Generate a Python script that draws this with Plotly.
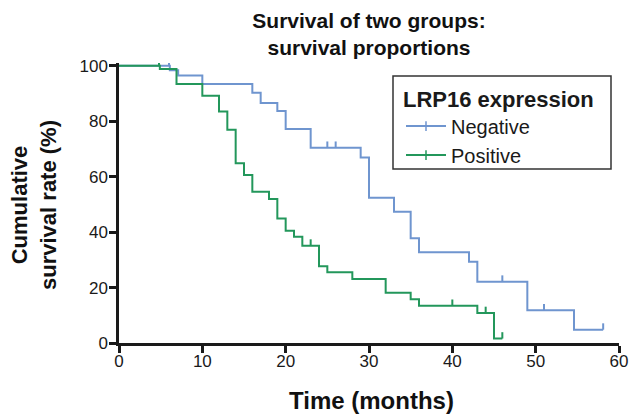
import plotly.graph_objects as go

# ---- data ----
neg_time = [0, 6.1, 7.1, 10, 16, 17, 19, 20, 23, 29, 30, 33, 35, 36, 42, 43, 49, 54.6, 58.1]
neg_surv = [100, 98.4, 96.5, 93.4, 90.3, 86.6, 83.7, 77.2, 70.4, 66.9, 52.4, 47.3, 37.8, 32.7, 29.3, 22.1, 11.8, 4.8, 4.8]
neg_censor = [6.0, 25, 26, 46, 51, 58.1]

pos_time = [0, 4.9, 6.9, 10, 12, 13, 14, 15, 16, 18, 19, 20, 21, 22, 24, 25, 28, 32, 35, 36, 43, 45, 46]
pos_surv = [100, 98.8, 93.4, 89.2, 83.5, 76.9, 64.8, 60.6, 54.6, 51.9, 44.9, 40.5, 38.3, 35.1, 27.7, 25.5, 23.1, 18.1, 15.8, 13.4, 10.8, 1.6, 1.6]
pos_censor = [4.8, 23, 40, 44, 46]

x_ticks = [0, 10, 20, 30, 40, 50, 60]
y_ticks = [0, 20, 40, 60, 80, 100]

BLUE = "#6f95cf"
GREEN = "#23975b"
TICK_H = 2.3  # censor tick height in % units


def surv_at(times, survs, t):
    v = survs[0]
    for ti, si in zip(times, survs):
        if ti <= t:
            v = si
    return v


def censor_xy(times, survs, cens):
    xs, ys = [], []
    for t in cens:
        s = surv_at(times, survs, t)
        xs += [t, t, None]
        ys += [s, s + TICK_H, None]
    return xs, ys


fig = go.Figure()
for name, tt, ss, cc, col in [("Negative", neg_time, neg_surv, neg_censor, BLUE),
                              ("Positive", pos_time, pos_surv, pos_censor, GREEN)]:
    fig.add_trace(go.Scatter(x=tt, y=ss, mode="lines", line=dict(color=col, width=2, shape="hv"),
                             showlegend=False, hoverinfo="skip"))
    cx, cy = censor_xy(tt, ss, cc)
    fig.add_trace(go.Scatter(x=cx, y=cy, mode="lines", line=dict(color=col, width=2),
                             showlegend=False, hoverinfo="skip"))
    fig.add_trace(go.Scatter(x=[None], y=[None], mode="lines+markers", name=name,
                             line=dict(color=col, width=2),
                             marker=dict(symbol="line-ns-open", size=7, line=dict(color=col, width=1.5))))

font = "Liberation Sans, Arial, sans-serif"
fig.update_layout(
    width=631, height=416,
    margin=dict(l=119, r=12, t=63, b=73, autoexpand=False),
    plot_bgcolor="white", paper_bgcolor="white",
    font=dict(family=font, color="#1a1a1a", size=17),
    title=dict(text="<b>Survival of two groups:<br>survival proportions</b>",
               x=0.5, xref="paper", xanchor="center", y=1 - 28 / 416, yanchor="middle",
               font=dict(size=21, color="#111")),
    legend=dict(xref="container", yref="container", x=401 / 631, y=1 - 78 / 416,
                xanchor="left", yanchor="top",
                borderwidth=0, bgcolor="rgba(0,0,0,0)",
                title=dict(text="<b>LRP16 expression</b>", font=dict(size=22)),
                font=dict(size=20), tracegroupgap=0, itemwidth=40),
    shapes=[dict(type="rect", xref="paper", yref="paper",
                 x0=0.548, x1=0.984, y0=0.621, y1=0.954,
                 line=dict(color="#333", width=1.5), fillcolor="white", layer="below")],
    xaxis=dict(range=[0, 60], tickvals=x_ticks, showgrid=False, zeroline=False,
               showline=True, linecolor="#1a1a1a", linewidth=2.5, automargin=False,
               ticks="outside", ticklen=7, tickwidth=2.5, tickcolor="#1a1a1a",
               ticklabelstandoff=-6, tickfont=dict(size=17)),
    yaxis=dict(range=[0, 101], tickvals=y_ticks, showgrid=False, zeroline=False,
               showline=True, linecolor="#1a1a1a", linewidth=2.5, automargin=False,
               ticks="outside", ticklen=7, tickwidth=2.5, tickcolor="#1a1a1a",
               ticklabelstandoff=-2, tickfont=dict(size=17)),
    annotations=[
        dict(text="<b>Cumulative<br>survival rate (%)</b>", textangle=-90,
             xref="paper", yref="paper", x=-0.17, y=0.493, xanchor="center", yanchor="middle",
             showarrow=False, font=dict(size=22, color="#111")),
        dict(text="<b>Time (months)</b>", xref="paper", yref="paper", x=0.504, y=-0.204,
             xanchor="center", yanchor="middle", showarrow=False, font=dict(size=24, color="#111")),
    ],
)

fig.write_html("out.html", config={"displayModeBar": False},
               post_script="document.body.style.margin='0';")
